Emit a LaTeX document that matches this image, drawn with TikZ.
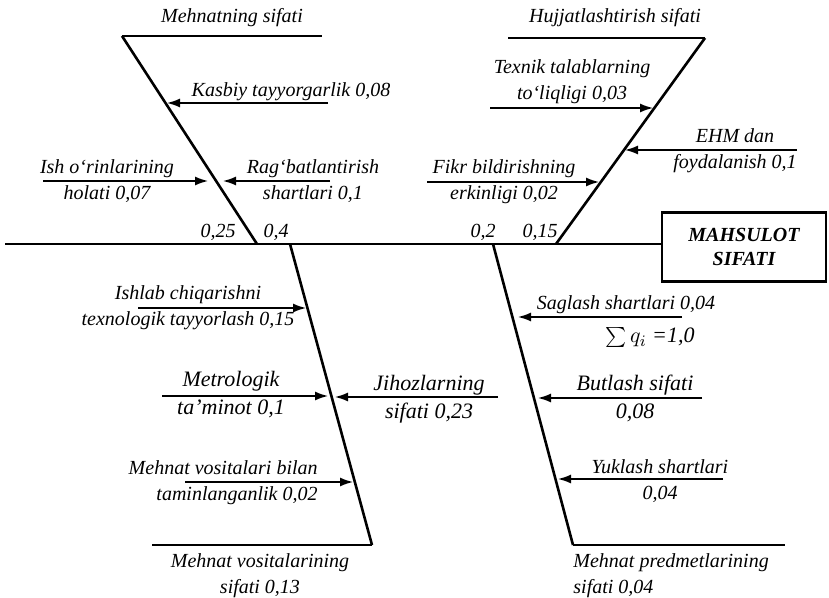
\documentclass[tikz,border=0pt]{standalone}
\usepackage{fontspec}
\setmainfont{Liberation Serif}
\usetikzlibrary{arrows.meta}
\tikzset{
    bone-line/.style = {line width=1.3pt},
    spine-line/.style = {line width=1pt},
    cap-line/.style = {line width=0.8pt},
    rib-arrow/.style = {line width=0.75pt, -{Latex[length=6.5pt,width=4.5pt]}},
    rib-label/.style = {align=center, inner sep=1pt, font=\fontsize{10}{13}\selectfont\itshape},
    big-label/.style = {rib-label, font=\fontsize{11}{14}\selectfont\itshape},
    head-box/.style = {draw, line width=1.2pt, minimum width=82pt, minimum height=34.5pt, align=center, font=\fontsize{10}{12}\selectfont\bfseries\itshape},
}

\begin{document}
\begin{tikzpicture}[x=0.5pt, y=-0.5pt]
\useasboundingbox (0,0) rectangle (829,598);
% head and spine
\node[head-box] (head) at (744,247) {MAHSULOT\\SIFATI};
\coordinate (tail) at (5,244);
\draw[spine-line] (tail) -- (tail -| head.west);

% bones
\coordinate (mehnat-top) at (122,36);
\coordinate (mehnat-cap) at (322,36);
\coordinate (mehnat-end) at (257,244);
\coordinate (hujjat-top) at (705,38);
\coordinate (hujjat-cap) at (508,38);
\coordinate (hujjat-end) at (556,244);
\coordinate (vosita-top) at (290,244);
\coordinate (vosita-end) at (372,545);
\coordinate (vosita-cap) at (152,545);
\coordinate (predmet-top) at (493,244);
\coordinate (predmet-end) at (573,545);
\coordinate (predmet-cap) at (785,545);
\draw[bone-line] (mehnat-top) -- (mehnat-end);
\draw[bone-line] (hujjat-top) -- (hujjat-end);
\draw[bone-line] (vosita-top) -- (vosita-end);
\draw[bone-line] (predmet-top) -- (predmet-end);
\draw[cap-line] (mehnat-top) -- (mehnat-cap);
\draw[cap-line] (hujjat-top) -- (hujjat-cap);
\draw[cap-line] (vosita-end) -- (vosita-cap);
\draw[cap-line] (predmet-end) -- (predmet-cap);

\node[rib-label] (mehnat) at (232,18) {Mehnatning sifati};
\node[rib-label] (hujjat) at (615,18) {Hujjatlashtirish sifati};
\node[rib-label, anchor=north] (vosita) at (260,551) {Mehnat vositalarining\\sifati 0,13};
\node[rib-label, anchor=north west, align=left] (predmet) at (571,551) {Mehnat predmetlarining\\sifati 0,04};

% weights on the spine
\node[rib-label, anchor=south] (w-mehnat) at (218,243) {0,25};
\node[rib-label, anchor=south] (w-vosita) at (276,243) {0,4};
\node[rib-label, anchor=south] (w-predmet) at (483,243) {0,2};
\node[rib-label, anchor=south] (w-hujjat) at (540,243) {0,15};

% ribs of the upper left bone
\coordinate (kasbiy-a) at (328,103);
\coordinate (kasbiy-b) at (167,103);
\coordinate (ish-a) at (43,181);
\coordinate (ish-b) at (208,181);
\coordinate (rag-a) at (330,181);
\coordinate (rag-b) at (223,181);
\draw[rib-arrow] (kasbiy-a) -- (kasbiy-b);
\draw[rib-arrow] (ish-a) -- (ish-b);
\draw[rib-arrow] (rag-a) -- (rag-b);
\node[rib-label, anchor=south] (kasbiy) at (291,103) {Kasbiy tayyorgarlik 0,08};
\node[rib-label] (ish) at (107,181) {Ish o‘rinlarining\\holati 0,07};
\node[rib-label] (rag) at (313,181) {Rag‘batlantirish\\shartlari 0,1};

% ribs of the upper right bone
\coordinate (texnik-a) at (490,108);
\coordinate (texnik-b) at (653,108);
\coordinate (ehm-a) at (797,150);
\coordinate (ehm-b) at (625,150);
\coordinate (fikr-a) at (427,182);
\coordinate (fikr-b) at (599,182);
\draw[rib-arrow] (texnik-a) -- (texnik-b);
\draw[rib-arrow] (ehm-a) -- (ehm-b);
\draw[rib-arrow] (fikr-a) -- (fikr-b);
\node[rib-label, anchor=south] (texnik) at (572,106) {Texnik talablarning\\to‘liqligi 0,03};
\node[rib-label] (ehm) at (735,151) {EHM dan\\foydalanish 0,1};
\node[rib-label] (fikr) at (504,182) {Fikr bildirishning\\erkinligi 0,02};

% ribs of the lower left bone
\coordinate (ishlab-a) at (138,308);
\coordinate (ishlab-b) at (306,308);
\coordinate (metro-a) at (162,396);
\coordinate (metro-b) at (328,396);
\coordinate (taminot-a) at (185,482);
\coordinate (taminot-b) at (353,482);
\coordinate (jihoz-a) at (498,397);
\coordinate (jihoz-b) at (335,397);
\draw[rib-arrow] (ishlab-a) -- (ishlab-b);
\draw[rib-arrow] (metro-a) -- (metro-b);
\draw[rib-arrow] (taminot-a) -- (taminot-b);
\draw[rib-arrow] (jihoz-a) -- (jihoz-b);
\node[rib-label] (ishlab) at (188,308) {Ishlab chiqarishni\\texnologik tayyorlash 0,15};
\node[big-label] (metro) at (231,395) {Metrologik\\ta’minot 0,1};
\node[rib-label, anchor=east, align=right] (taminot) at (320,483) {Mehnat vositalari bilan\\taminlanganlik 0,02};
\node[big-label] (jihoz) at (429,399) {Jihozlarning\\sifati 0,23};

% ribs of the lower right bone
\coordinate (saqlash-a) at (682,317);
\coordinate (saqlash-b) at (518,317);
\coordinate (butlash-a) at (702,398);
\coordinate (butlash-b) at (538,398);
\coordinate (yuklash-a) at (723,479);
\coordinate (yuklash-b) at (558,479);
\draw[rib-arrow] (saqlash-a) -- (saqlash-b);
\draw[rib-arrow] (butlash-a) -- (butlash-b);
\draw[rib-arrow] (yuklash-a) -- (yuklash-b);
\node[rib-label, anchor=south] (saqlash) at (626,316) {Saglash shartlari 0,04};
\node[big-label, anchor=north, inner sep=0pt] (summa) at (650,327) {$\sum q_i$ =1,0};
\node[big-label] (butlash) at (635,398) {Butlash sifati\\0,08};
\node[rib-label] (yuklash) at (660,481) {Yuklash shartlari\\0,04};
\end{tikzpicture}
\end{document}
